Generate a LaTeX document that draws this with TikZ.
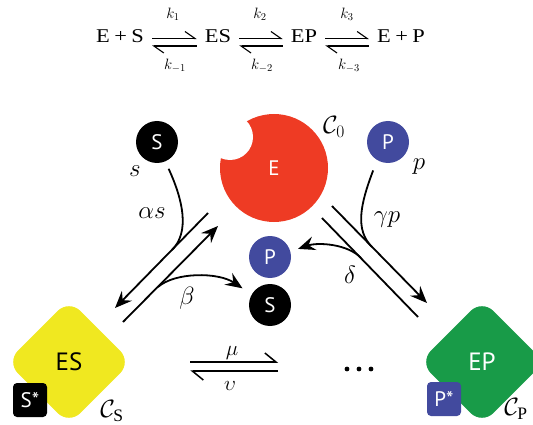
\RequirePackage{fix-cm}
\documentclass[tikz,border=0pt]{standalone}
\usepackage{amsmath}
\usepackage{fontspec}
\setmainfont{Liberation Serif}
\newfontfamily\eqfont[FakeStretch=1.15]{Liberation Serif}
\newfontfamily\lblfont{PT Sans}
\usepackage{tikz}
\usetikzlibrary{positioning,arrows.meta,shapes.geometric}

\definecolor{enzred}{RGB}{238,59,36}
\definecolor{prodblue}{RGB}{66,74,158}
\definecolor{esyellow}{RGB}{240,232,32}
\definecolor{epgreen}{RGB}{24,155,72}

\begin{document}
\begin{tikzpicture}[x=1pt,y=-1pt,
		>={Stealth[length=17pt,width=14pt,inset=6pt]},
		eq/.style={font=\eqfont\fontsize{19.5}{20}\selectfont,inner xsep=8pt,inner ysep=0pt,anchor=base},
		klab/.style={font=\fontsize{15}{15}\selectfont},
		harp/.style={line width=1.1pt,-{Straight Barb[harpoon,length=10pt,width=14pt]}},
		bigharp/.style={line width=1.5pt,-{Straight Barb[harpoon,length=11pt,width=18pt]}},
		species/.style={circle,minimum size=42pt,inner sep=0pt,text=white,font=\lblfont\fontsize{21}{21}\selectfont},
		cplx/.style={diamond,minimum width=125pt,minimum height=125pt,inner sep=0pt,rounded corners=16pt,font=\lblfont\fontsize{25}{25}\selectfont},
		tag/.style={rectangle,rounded corners=4pt,minimum size=34pt,inner sep=0pt,text=white,font=\lblfont\fontsize{21}{21}\selectfont},
		flux/.style={line width=1.8pt},
		rate/.style={font=\fontsize{25}{25}\selectfont},
		conc/.style={font=\fontsize{25}{25}\selectfont}]
		
		\useasboundingbox (0,0) rectangle (533,425);
		\clip (0,0) rectangle (533,425);
		
		% Reaction scheme
		\node[eq] (eqA) at (120,43) {E\hspace{4.5pt}+\hspace{4.5pt}S};
		\node[eq] (eqB) at (218,43) {ES};
		\node[eq] (eqC) at (304,43) {EP};
		\node[eq] (eqD) at (401,43) {E\hspace{4.5pt}+\hspace{4.5pt}P};
		
		\draw[harp] ([yshift=4.5pt]eqA.base east) -- ([yshift=4.5pt]eqB.base west);
		\draw[harp] ([yshift=-3pt]eqB.base west) -- ([yshift=-3pt]eqA.base east);
		\draw[harp] ([yshift=4.5pt]eqB.base east) -- ([yshift=4.5pt]eqC.base west);
		\draw[harp] ([yshift=-3pt]eqC.base west) -- ([yshift=-3pt]eqB.base east);
		\draw[harp] ([yshift=4.5pt]eqC.base east) -- ([yshift=4.5pt]eqD.base west);
		\draw[harp] ([yshift=-3pt]eqD.base west) -- ([yshift=-3pt]eqC.base east);
		
		\node[klab] (k1) at (173,14) {$k_{1}$};
		\node[klab] (km1) at (175,66) {$k_{-1}$};
		\node[klab] (k2) at (260,14) {$k_{2}$};
		\node[klab] (km2) at (262,66) {$k_{-2}$};
		\node[klab] (k3) at (347,14) {$k_{3}$};
		\node[klab] (km3) at (349,66) {$k_{-3}$};
		
		% Free enzyme with binding site
		\node[species,minimum size=108pt,fill=enzred] (enz) at (274,168) {E};
		\fill[white] (230,137) circle[radius=23pt];
		
		% Substrate and product
		\node[species,fill=black] (sPool) at (157,142) {S};
		\node[species,fill=prodblue] (pPool) at (388,142) {P};
		\node[species,fill=prodblue] (pOut) at (270,257) {P};
		\node[species,fill=black] (sOut) at (270,305) {S};
		
		% Complexes
		\node[cplx,fill=esyellow] (es) at (69,362) {ES};
		\node[cplx,fill=epgreen,text=white] (ep) at (482,362) {EP};
		\node[tag,fill=black] (sStar) at (30,400) {S*};
		\node[tag,fill=prodblue] (pStar) at (444,399) {P*};
		
		% Concentrations
		\node[conc] (c0) at (334,127) {$\mathcal{C}_{0}$};
		\node[conc] (cS) at (112,411) {$\mathcal{C}_{\mathrm{S}}$};
		\node[conc] (cP) at (516,409) {$\mathcal{C}_{\mathrm{P}}$};
		\node[rate] (sLab) at (135,171) {$s$};
		\node[rate] (pLab) at (419,167) {$p$};
		
		% Binding and release of S
		\coordinate (bindTop) at (208,213);
		\coordinate (bindEnd) at (115,308);
		\coordinate (bindJoin) at (172,250);
		\coordinate (relBot) at (123,322);
		\coordinate (relEnd) at (218,226);
		\coordinate (relJoin) at (158,287);
		\draw[flux,->] (bindTop) -- (bindEnd);
		\draw[flux,shorten <=8pt] (sPool.-67) .. controls (183,200) and (190,232) .. (bindJoin);
		\draw[flux,->] (relBot) -- (relEnd);
		\draw[flux,->,shorten >=11pt] (relJoin) .. controls (175,272) and (218,272) .. (sOut.150);
		\node[rate] (alphaLab) at (152,213) {$\alpha s$};
		\node[rate] (betaLab) at (187,298) {$\beta$};
		
		% Binding and release of P
		\coordinate (catTop) at (332,206);
		\coordinate (catEnd) at (427,303);
		\coordinate (catJoin) at (372,247);
		\coordinate (rebTop) at (322,218);
		\coordinate (rebBot) at (418,317);
		\coordinate (rebJoin) at (361,258);
		\draw[flux,->] (catTop) -- (catEnd);
		\draw[flux,shorten <=11pt] (pPool.-121) .. controls (360,205) and (355,230) .. (catJoin);
		\draw[flux] (rebTop) -- (rebBot);
		\draw[flux,->,shorten >=8pt] (rebJoin) .. controls (348,244) and (318,242) .. (pOut.15);
		\node[rate] (gammaLab) at (387,220) {$\gamma p$};
		\node[rate] (deltaLab) at (350,275) {$\delta$};
		
		% Exchange between complexes
		\coordinate (more) at (359,369);
		\foreach \dx in {-12,0,12}
			\fill ([xshift=\dx pt]more) circle[radius=2.4pt];
		\draw[bigharp,shorten <=58.5pt,shorten >=81pt] (es.east) -- (es.east -| more);
		\draw[bigharp,shorten <=81pt,shorten >=58.5pt] ([yshift=-9pt]es.east -| more) -- ([yshift=-9pt]es.east);
		\node[font=\fontsize{21}{21}\selectfont] (muLab) at (232,353) {$\mu$};
		\node[font=\fontsize{21}{21}\selectfont] (upsLab) at (230,386) {$\upsilon$};
		
	\end{tikzpicture}
\end{document}
